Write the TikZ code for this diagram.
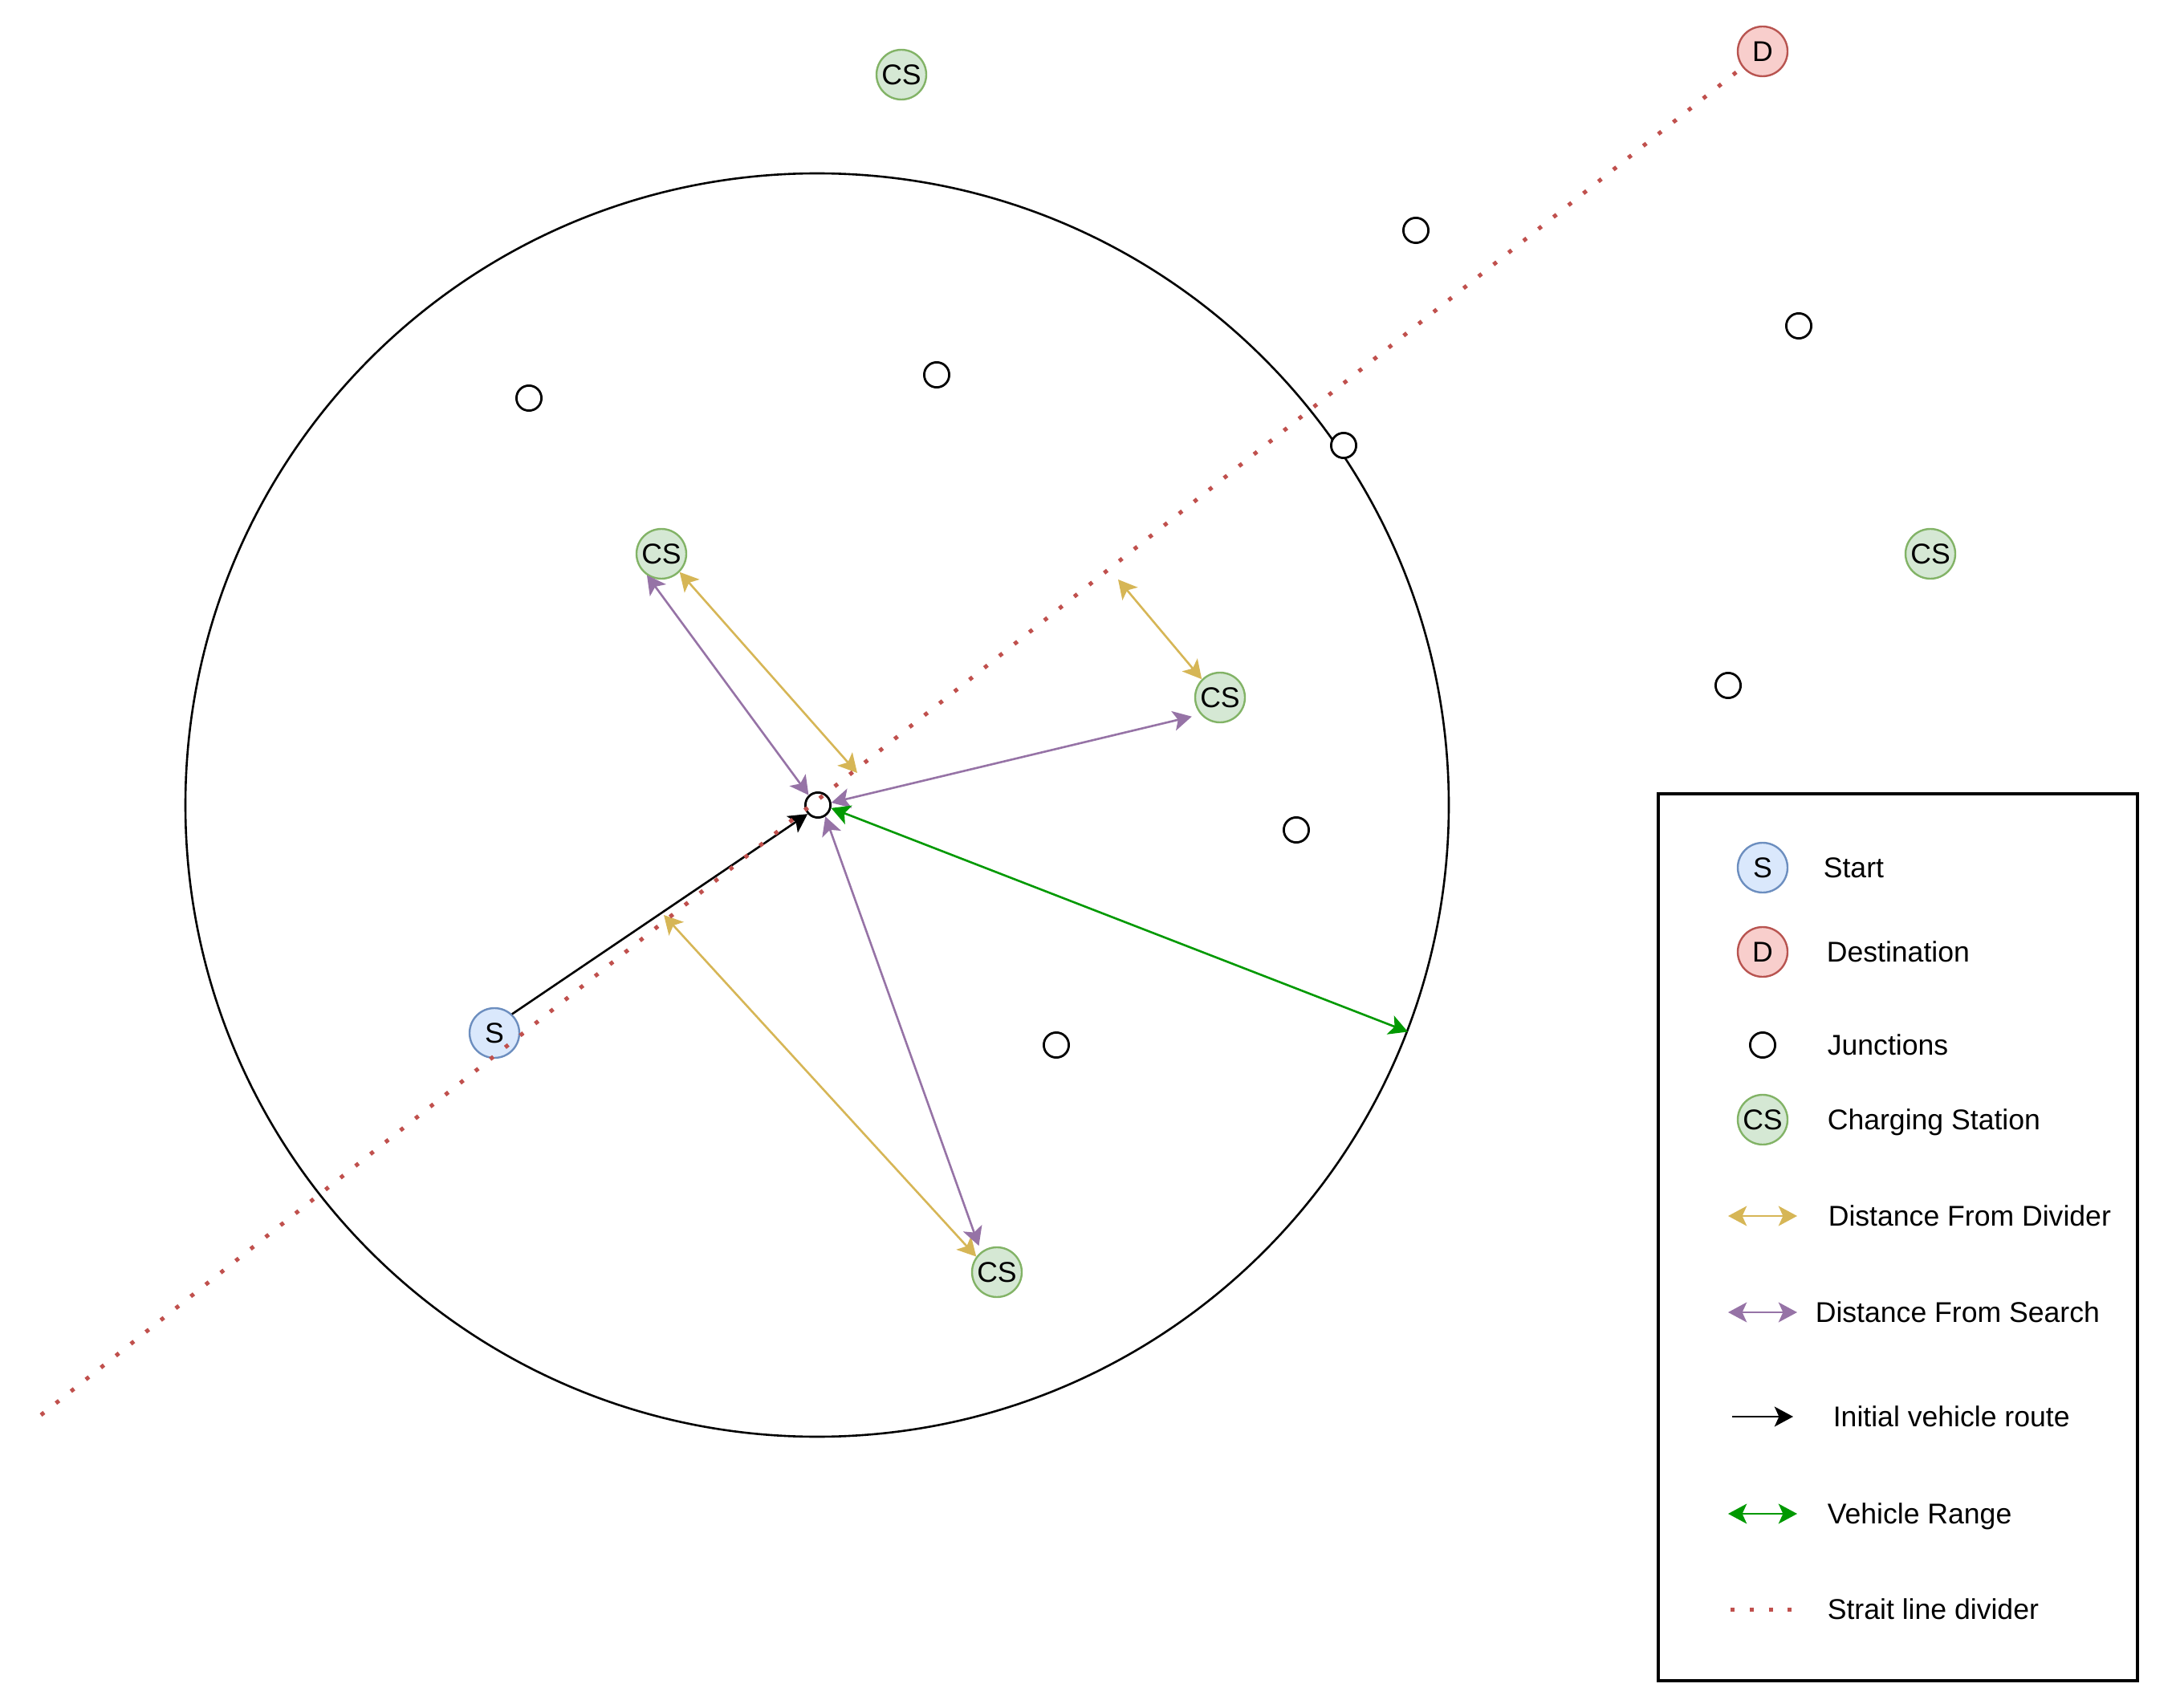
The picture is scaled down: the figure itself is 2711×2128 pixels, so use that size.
\documentclass[tikz,border=0pt]{standalone}
\usepackage{fontspec}
\setmainfont{Liberation Sans}
\usetikzlibrary{arrows.meta}
\definecolor{sFill}{HTML}{DAE8FC}
\definecolor{sDraw}{HTML}{6C8EBF}
\definecolor{dFill}{HTML}{F8CECC}
\definecolor{dDraw}{HTML}{B85450}
\definecolor{cFill}{HTML}{D5E8D4}
\definecolor{cDraw}{HTML}{82B366}
\definecolor{yArrow}{HTML}{D6B656}
\definecolor{pArrow}{HTML}{9673A6}
\definecolor{gArrow}{HTML}{009900}
\definecolor{divRed}{HTML}{C0504D}
\tikzset{
  every node/.style={font=\fontsize{8.9pt}{10.7pt}\selectfont},
  >={Stealth[length=5.8pt,width=6.2pt,inset=1.4pt]},
  place/.style={circle, inner sep=0pt, minimum size=15.5pt, line width=0.6pt, text height=6.4pt, text depth=0pt},
  startnd/.style={place, draw=sDraw, fill=sFill},
  destnd/.style={place, draw=dDraw, fill=dFill},
  csnd/.style={place, draw=cDraw, fill=cFill},
  junc/.style={circle, draw=black, fill=white, inner sep=0pt, minimum size=7.8pt, line width=0.7pt},
  rangecircle/.style={circle, draw=black, inner sep=0pt, minimum size=393.5pt, line width=0.65pt},
  ydist/.style={<->, draw=yArrow, line width=0.65pt},
  pdist/.style={<->, draw=pArrow, line width=0.65pt},
  vrange/.style={<->, draw=gArrow, line width=0.65pt},
  route/.style={->, draw=black, line width=0.65pt},
  divider/.style={draw=divRed, line width=1.25pt, dash pattern=on 1.25pt off 4.7pt},
  lbl/.style={anchor=west, inner sep=0pt, text height=6.4pt, text depth=0pt},
  legendbox/.style={draw=black, line width=0.8pt, inner sep=0pt, minimum width=149.25pt, minimum height=276.25pt},
}
\begin{document}
\begin{tikzpicture}[x=0.25pt,y=-0.25pt]
\useasboundingbox (0,0) rectangle (2711,2128);

% vehicle range circle
\node[rangecircle] (range) at (1018,1003) {};

% main nodes
\node[csnd] (cs0) at (1123,93) {CS};
\node[destnd] (d) at (2196,64) {D};
\node[csnd] (cs1) at (824,690) {CS};
\node[csnd] (cs2) at (1520,869) {CS};
\node[csnd] (cs4) at (2405,690) {CS};
\node[csnd] (cs3) at (1242,1585) {CS};
\node[startnd] (s) at (616,1287) {S};
\node[junc] (c) at (1019,1003) {};

% junctions
\node[junc] (j1) at (1764,287) {};
\node[junc] (j2) at (2241,406) {};
\node[junc] (j3) at (659,496) {};
\node[junc] (j4) at (1167,467) {};
\node[junc] (j5) at (1674,555) {};
\node[junc] (j6) at (2153,854) {};
\node[junc] (j7) at (1615,1034) {};
\node[junc] (j8) at (1316,1302) {};

% free ends on the divider
\coordinate (y1) at (1068,963);
\coordinate (y2) at (1393,722);
\coordinate (y3) at (827,1140);
\coordinate (dstart) at (51,1763);

% distance from divider
\draw[ydist] (cs1.315) -- (y1);
\draw[ydist] (cs2.135) -- (y2);
\draw[ydist] (cs3.143) -- (y3);

% distance from search
\draw[pdist] (c.133) -- (cs1.236);
\draw[pdist, shorten >=2.8pt] (c.10) -- (cs2.221);
\draw[pdist, shorten >=2pt] (c.303) -- (cs3.128);

% vehicle range
\draw[vrange] (c.347) -- (range.-21);

% initial route
\draw[route] (s.47) -- (c.221);

% straight line divider
\draw[divider] (dstart) -- (d);

% legend
\node[legendbox] (legend) at (2364.5,1541.5) {};
\node[startnd] (ls) at (2196,1081) {S};
\node[lbl] (lst) at (2271,1081) {Start};
\node[destnd] (ld) at (2196,1186) {D};
\node[lbl] (ldt) at (2275,1186) {Destination};
\node[junc] (lj) at (2196,1302) {};
\node[lbl] (ljt) at (2276,1302) {Junctions};
\node[csnd] (lcs) at (2196,1395) {CS};
\node[lbl] (lcst) at (2276,1395) {Charging Station};

\coordinate (lya) at (2153,1515); \coordinate (lyb) at (2239,1515);
\draw[ydist] (lya) -- (lyb);
\node[lbl] (lyt) at (2277,1515) {Distance From Divider};

\coordinate (lpa) at (2153,1635); \coordinate (lpb) at (2239,1635);
\draw[pdist] (lpa) -- (lpb);
\node[lbl] (lpt) at (2261,1635) {Distance From Search};

\coordinate (lba) at (2158,1765); \coordinate (lbb) at (2234,1765);
\draw[route] (lba) -- (lbb);
\node[lbl] (lbt) at (2283,1765) {Initial vehicle route};

\coordinate (lga) at (2153,1886); \coordinate (lgb) at (2239,1886);
\draw[vrange] (lga) -- (lgb);
\node[lbl] (lgt) at (2276,1886) {Vehicle Range};

\coordinate (lda) at (2156,2005); \coordinate (ldb) at (2236,2005);
\draw[divider] (lda) -- (ldb);
\node[lbl] (ldivt) at (2276,2005) {Strait line divider};
\end{tikzpicture}
\end{document}
